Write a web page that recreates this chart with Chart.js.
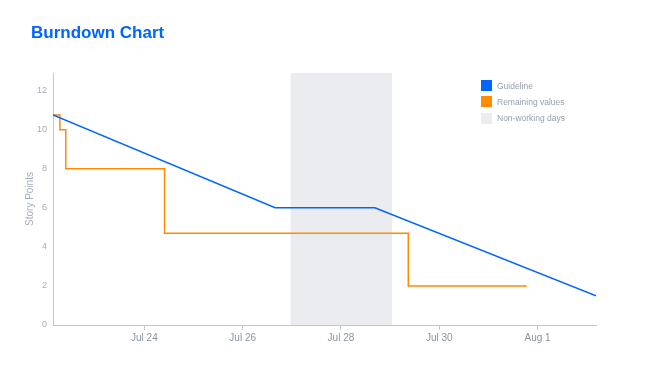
<!DOCTYPE html>
<html><head><meta charset="utf-8">
<script src="https://cdn.jsdelivr.net/npm/chart.js@4.4.1/dist/chart.umd.min.js"></script>
<style>
html,body{margin:0;padding:0;background:#fff;}
#wrap{position:relative;width:647px;height:392px;overflow:hidden;}
canvas{position:absolute;left:0;top:0;}
#title{position:absolute;left:31px;top:23px;margin:0;font:bold 17px "Liberation Sans",Arial,sans-serif;line-height:20px;color:#0065FF;}
#legend{position:absolute;left:481px;top:80px;font:8.5px "Liberation Sans",Arial,sans-serif;color:#97A0AF;}
.item{display:flex;align-items:center;height:11px;margin-bottom:5.3px;white-space:nowrap;}
.sw{width:11px;height:11px;margin-right:5px;flex:none;}
</style></head>
<body>
<div id="wrap">
<canvas id="c" width="647" height="392"></canvas>
<div id="title">Burndown Chart</div>
<div id="legend"></div>
</div>
<script>
// x values are days counted from July 1 (Aug 1 = 32)
const seriesNames = ["Guideline", "Remaining values", "Non-working days"];
const guideX = [22.14, 26.66, 28.69, 33.19];
const guideY = [10.75, 6, 6, 1.5];
const remainX = [22.14, 22.28, 22.40, 24.41, 29.37, 31.78];
const remainY = [10.75, 10, 8, 4.7, 2, 2];
const nonWorkX = [26.97, 29.04];
const xTickDays = [24, 26, 28, 30, 32];
const yTicks = [0, 2, 4, 6, 8, 10, 12];
const xMin = 22.14, xMax = 33.19, yMax = 12.9;

const colors = ["#0065FF", "#FF8B00", "#EBECF0"];

function dayLabel(d) {
  return d > 31 ? "Aug " + (d - 31) : "Jul " + d;
}
const toPts = (xs, ys) => xs.map((x, i) => ({x: x, y: ys[i]}));

const chart = new Chart(document.getElementById("c"), {
  type: "line",
  data: {
    datasets: [
      {label: seriesNames[0], data: toPts(guideX, guideY), borderColor: colors[0], borderWidth: 1.5, pointRadius: 0, fill: false, tension: 0, order: 1},
      {label: seriesNames[1], data: toPts(remainX, remainY), borderColor: colors[1], borderWidth: 1.5, pointRadius: 0, fill: false, stepped: "before", order: 2},
      {label: seriesNames[2], data: nonWorkX.map(x => ({x: x, y: yMax})), borderColor: "rgba(0,0,0,0)", borderWidth: 0, backgroundColor: colors[2], pointRadius: 0, fill: "origin", order: 3}
    ]
  },
  options: {
    responsive: false,
    animation: false,
    devicePixelRatio: 1,
    layout: {padding: {left: 0, right: 51, top: 73, bottom: 0}},
    plugins: {legend: {display: false}, tooltip: {enabled: false}, title: {display: false}},
    scales: {
      x: {
        type: "linear",
        min: xMin, max: xMax,
        afterBuildTicks: s => { s.ticks = xTickDays.map(v => ({value: v})); },
        afterFit: s => { s.height = 67; },
        grid: {drawOnChartArea: false, drawTicks: true, tickLength: 5, color: "#C1C7D0"},
        border: {color: "#C1C7D0", width: 1},
        ticks: {callback: v => dayLabel(v), color: "#8993A4", font: {family: "'Liberation Sans', Arial, sans-serif", size: 10}, padding: 2, maxRotation: 0, autoSkip: false}
      },
      y: {
        min: 0, max: yMax,
        afterBuildTicks: s => { s.ticks = yTicks.map(v => ({value: v})); },
        afterFit: s => { s.width = 53; },
        grid: {display: true, drawOnChartArea: false, drawTicks: false},
        border: {color: "#C1C7D0", width: 1},
        ticks: {color: "#A5ADBA", font: {family: "'Liberation Sans', Arial, sans-serif", size: 9}, padding: 6},
        title: {display: true, text: "Story Points", color: "#A5ADBA", font: {family: "'Liberation Sans', Arial, sans-serif", size: 10}, padding: {top: 24, bottom: 0}}
      }
    }
  }
});

const lg = document.getElementById("legend");
chart.data.datasets.forEach((ds, i) => {
  const it = document.createElement("div");
  it.className = "item";
  const sw = document.createElement("span");
  sw.className = "sw";
  sw.style.background = colors[i];
  const tx = document.createElement("span");
  tx.textContent = ds.label;
  it.appendChild(sw); it.appendChild(tx);
  lg.appendChild(it);
});
</script>
</body></html>
